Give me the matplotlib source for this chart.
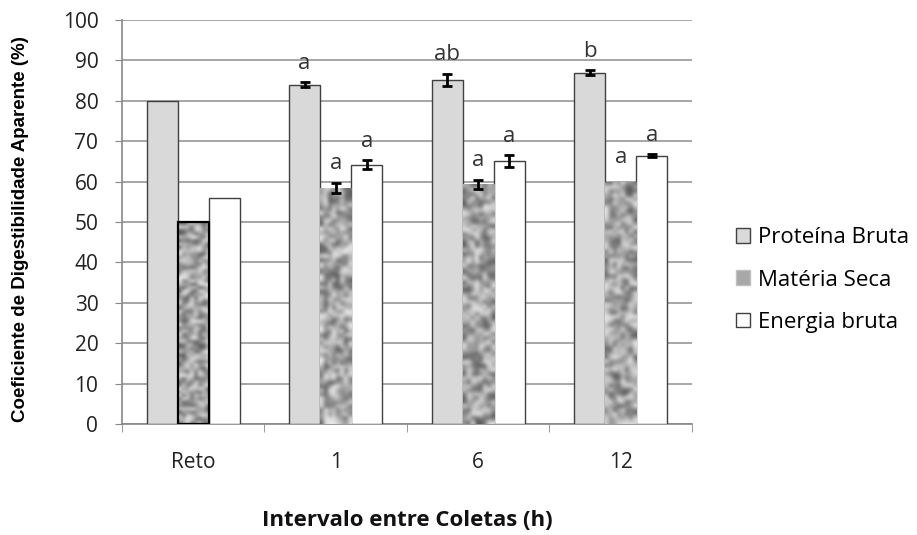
import numpy as np
import matplotlib
matplotlib.use("Agg")
import matplotlib.pyplot as plt
from matplotlib.patches import Patch

plt.rcParams['font.family'] = ['Open Sans', 'DejaVu Sans']

categories = ['Reto', '1', '6', '12']
proteina = [80, 84.0, 85.2, 87.0]
proteina_err = [0, 0.6, 1.5, 0.6]
materia = [50, 58.5, 59.3, 60.0]
materia_err = [0, 1.2, 1.2, 0]
energia = [56, 64.2, 65.0, 66.4]
energia_err = [0, 1.1, 1.5, 0.4]

# significance letters (None = not drawn)
letters_pb = [None, 'a', 'ab', 'b']
letters_ms = [None, 'a', 'a', 'a']
letters_eb = [None, 'a', 'a', 'a']

fig = plt.figure(figsize=(9.17, 5.35), dpi=100)
ax = fig.add_axes([0.1330, 0.2075, 0.6216, 0.7551])

x = np.arange(len(categories))
w = 0.218

ax.bar(x - w, proteina, w, color='#d9d9d9', edgecolor='#404040', linewidth=1, zorder=3)
ms_bars = ax.bar(x, materia, w, color='#a8a8a8', edgecolor='none', linewidth=0, zorder=3)
ax.bar(x + w, energia, w, color='white', edgecolor='#404040', linewidth=1, zorder=3)

# mottled fill for the Matéria Seca bars
rng = np.random.RandomState(11)
for b in ms_bars:
    noise = rng.rand(60, 8)
    im = ax.imshow(noise, cmap='gray', vmin=-0.55, vmax=1.1, aspect='auto',
                   interpolation='bicubic',
                   extent=(b.get_x(), b.get_x() + b.get_width(), 0, b.get_height()),
                   zorder=3.5)
    im.set_clip_path(b)
# the Reto bar keeps a dark outline
ax.bar(x[0], materia[0], w, color='none', edgecolor='black', linewidth=1.6, zorder=4)

ekw = dict(fmt='none', ecolor='black', elinewidth=2, capsize=3.8, capthick=2, zorder=5)
for off, vals, errs in [(-w, proteina, proteina_err), (0, materia, materia_err), (w, energia, energia_err)]:
    xs = [xi + off for xi, e in zip(x, errs) if e > 0]
    ys = [v for v, e in zip(vals, errs) if e > 0]
    es = [e for e in errs if e > 0]
    ax.errorbar(xs, ys, yerr=es, **ekw)

def put_letters(off, vals, errs, labels):
    for xi, v, e, lab in zip(x, vals, errs, labels):
        if lab:
            dy = 3.3 if e > 0 else 4.6
            ax.text(xi + off, v + e + dy, lab, ha='center', va='baseline',
                    fontsize=16, color='#333333', zorder=6)

put_letters(-w, proteina, proteina_err, letters_pb)
put_letters(0, materia, materia_err, letters_ms)
put_letters(w, energia, energia_err, letters_eb)

ax.set_xlim(-0.5, 3.5)
ax.set_ylim(0, 100)
ax.set_yticks(np.arange(0, 101, 10))
ax.set_xticks(x)
ax.set_xticklabels(categories)
ax.set_xticks(np.arange(-0.5, 3.6, 1), minor=True)
ax.tick_params(axis='x', which='major', length=0, labelsize=15, pad=20, labelcolor='#222222')
ax.tick_params(axis='x', which='minor', length=6, color='#888888')
ax.tick_params(axis='y', length=5, color='#888888', labelsize=15, pad=12, labelcolor='#222222')
ax.grid(axis='y', color='#a6a6a6', linewidth=1.4, zorder=0)
ax.set_axisbelow(True)
for s in ['top', 'right']:
    ax.spines[s].set_visible(False)
for s in ['left', 'bottom']:
    ax.spines[s].set_color('#888888')
    ax.spines[s].set_linewidth(1.2)

fig.text(21 / 917, 1 - 229 / 535, 'Coeficiente de Digestibilidade Aparente (%)',
         rotation=90, ha='center', va='center', fontsize=13.5, fontweight='bold',
         family=['Liberation Sans', 'DejaVu Sans'])
fig.text(407 / 917, 1 - 521 / 535, 'Intervalo entre Coletas (h)',
         ha='center', va='center', fontsize=16, fontweight='bold', color='#111111')

handles = [Patch(facecolor='#d9d9d9', edgecolor='#404040'),
           Patch(facecolor='#a8a8a8', edgecolor='#c0c0c0'),
           Patch(facecolor='white', edgecolor='#404040')]
fig.legend(handles, ['Proteína Bruta', 'Matéria Seca', 'Energia bruta'],
           loc='center left', bbox_to_anchor=(736 / 917, 1 - 280 / 535), frameon=False,
           fontsize=16, handlelength=0.63, handleheight=0.63, labelspacing=0.95,
           handletextpad=0.36, borderpad=0, borderaxespad=0)

fig.savefig('out.png', dpi=100)
